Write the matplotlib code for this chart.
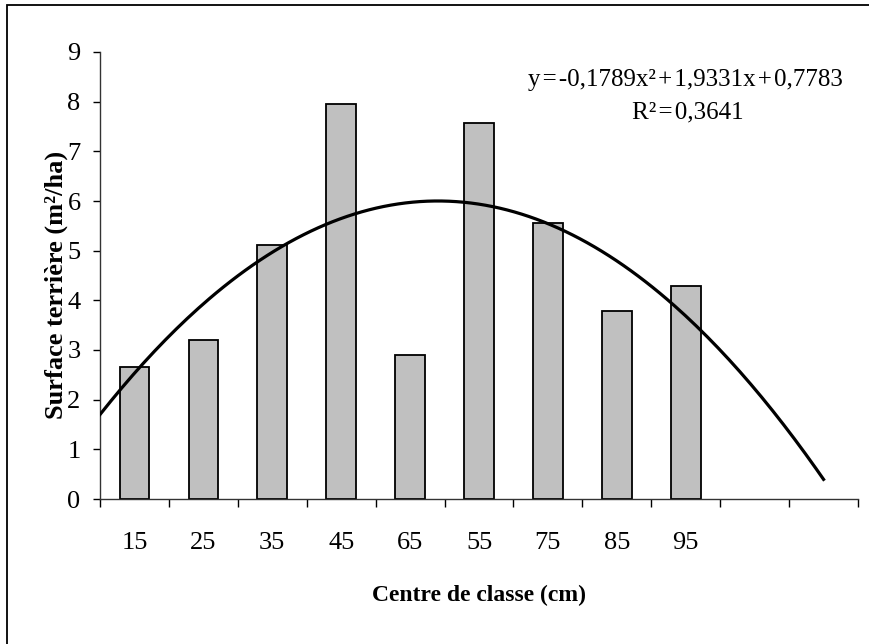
import matplotlib.pyplot as plt
from matplotlib.patches import Rectangle
import numpy as np

plt.rcParams['font.family'] = ['Liberation Serif', 'DejaVu Serif']

# data
classes = ['15', '25', '35', '45', '65', '55', '75', '85', '95']
surface = [2.66, 3.20, 5.11, 7.96, 2.90, 7.57, 5.55, 3.78, 4.29]
n_slots = 11                              # two empty category slots at the right
trend_coef = [-0.1789, 1.9331, 0.7783]    # polynomial trendline shown on the chart
r2 = 0.3641

W, H = 869, 644
fig = plt.figure(figsize=(W / 100, H / 100), dpi=100)
ax = fig.add_axes([100 / W, (H - 499) / H, 758 / W, 447 / H])

x = np.arange(1, len(surface) + 1)
ax.bar(x, surface, width=0.43, color='#c0c0c0', edgecolor='black', linewidth=1.3, zorder=2)

# trendline, drawn from half a category before the first to the last slot
xt = np.linspace(0.5, n_slots, 200)
ax.plot(xt, np.polyval(trend_coef, xt), color='black', linewidth=2.3, zorder=3)

ax.set_xlim(0.5, n_slots + 0.5)
ax.set_ylim(0, 9)
ax.set_yticks(range(0, 10))
ax.set_xticks(np.arange(0.5, n_slots + 1.0, 1.0))
ax.set_xticklabels([])
ax.set_xticks(x, minor=True)
ax.set_xticklabels(classes, minor=True)
ax.tick_params(axis='x', which='minor', length=0, pad=24, labelsize=19)
ax.tick_params(axis='x', which='major', length=6, width=1, direction='out')
ax.tick_params(axis='y', length=5, width=1, direction='out', pad=9, labelsize=19)

for s in ['top', 'right']:
    ax.spines[s].set_visible(False)
for s in ['left', 'bottom']:
    ax.spines[s].set_linewidth(1)
    ax.spines[s].set_color('#333333')

hs = '\u200a'
c = [str(v).replace('.', ',') for v in trend_coef]
eq = f'y{hs}={hs}{c[0]}x\u00b2{hs}+{hs}{c[1]}x{hs}+{hs}{c[2]}'
ax.text(0.980, 0.937, eq, transform=ax.transAxes, ha='right', va='center', fontsize=18)
ax.text(0.776, 0.864, f'R\u00b2{hs}={hs}' + str(r2).replace('.', ','), transform=ax.transAxes,
        ha='center', va='center', fontsize=18)

ax.set_xlabel('Centre de classe (cm)', fontsize=17, fontweight='bold', labelpad=22)
ax.set_ylabel('Surface terrière (m²/ha)', fontsize=19, fontweight='bold', va='center')
ax.yaxis.set_label_coords((56 - 100) / 758, (499 - 285) / 447)

# outer chart frame (only top and left edges are inside the image)
fig.patches.append(Rectangle((7 / W, -0.1), 1.2, (H - 5) / H + 0.1, transform=fig.transFigure,
                             fill=False, edgecolor='black', linewidth=1.3))

fig.savefig('out.png', dpi=100)
